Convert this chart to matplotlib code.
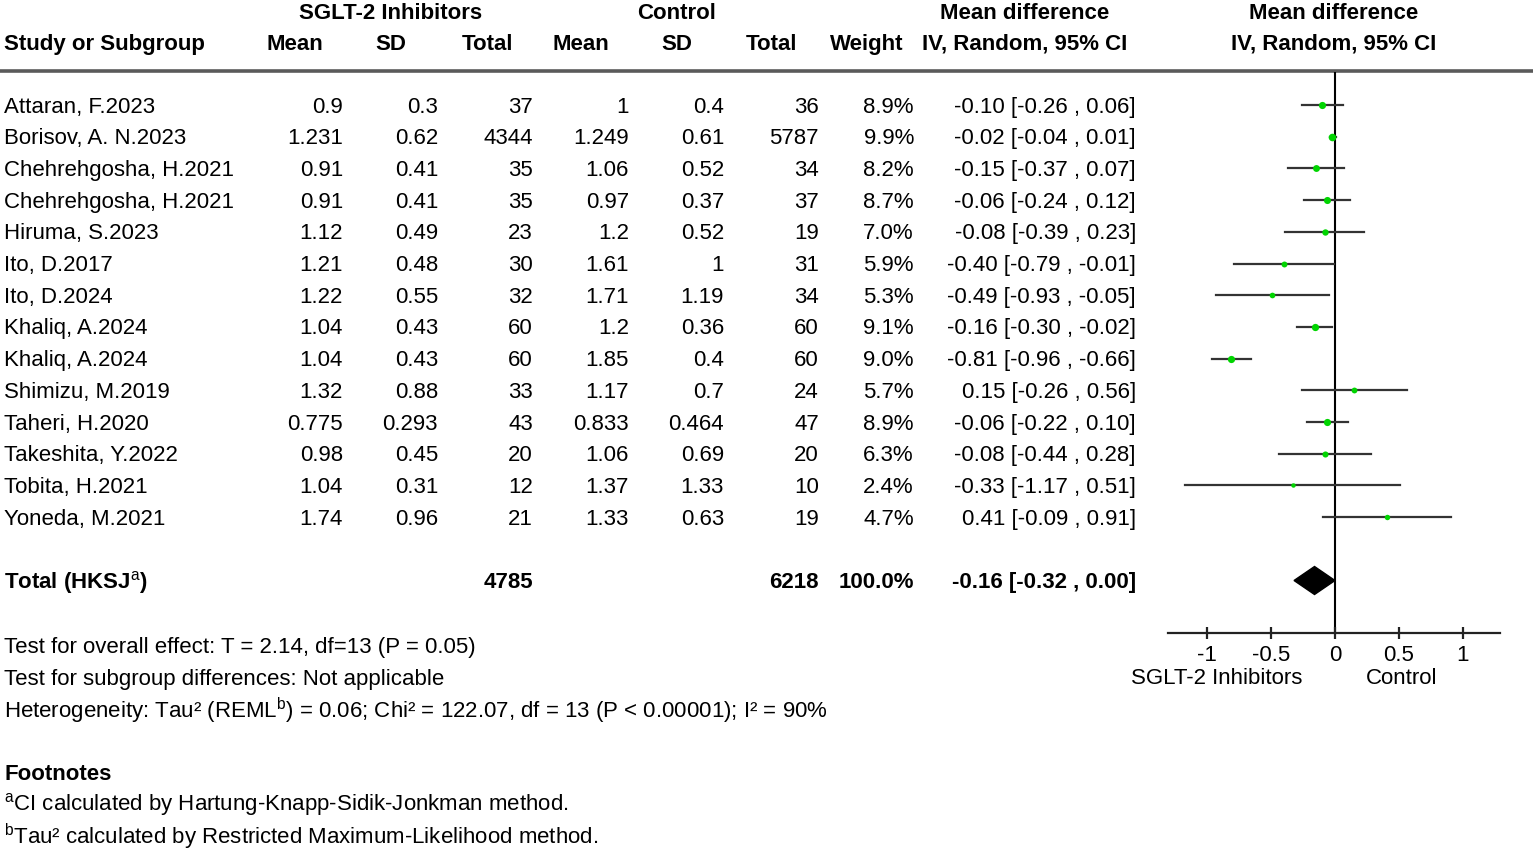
import matplotlib
matplotlib.use("Agg")
import matplotlib.pyplot as plt
from matplotlib.patches import Polygon

plt.rcParams['font.family'] = ['Liberation Sans', 'DejaVu Sans']
plt.rcParams['mathtext.fontset'] = 'custom'
plt.rcParams['mathtext.rm'] = 'Liberation Sans'
plt.rcParams['mathtext.it'] = 'Liberation Sans'

# ---------------- data ----------------
studies = ["Attaran, F.2023", "Borisov, A. N.2023", "Chehrehgosha, H.2021",
           "Chehrehgosha, H.2021", "Hiruma, S.2023", "Ito, D.2017", "Ito, D.2024",
           "Khaliq, A.2024", "Khaliq, A.2024", "Shimizu, M.2019", "Taheri, H.2020",
           "Takeshita, Y.2022", "Tobita, H.2021", "Yoneda, M.2021"]
sglt_mean = [0.9, 1.231, 0.91, 0.91, 1.12, 1.21, 1.22, 1.04, 1.04, 1.32, 0.775, 0.98, 1.04, 1.74]
sglt_sd = [0.3, 0.62, 0.41, 0.41, 0.49, 0.48, 0.55, 0.43, 0.43, 0.88, 0.293, 0.45, 0.31, 0.96]
sglt_n = [37, 4344, 35, 35, 23, 30, 32, 60, 60, 33, 43, 20, 12, 21]
ctrl_mean = [1, 1.249, 1.06, 0.97, 1.2, 1.61, 1.71, 1.2, 1.85, 1.17, 0.833, 1.06, 1.37, 1.33]
ctrl_sd = [0.4, 0.61, 0.52, 0.37, 0.52, 1, 1.19, 0.36, 0.4, 0.7, 0.464, 0.69, 1.33, 0.63]
ctrl_n = [36, 5787, 34, 37, 19, 31, 34, 60, 60, 24, 47, 20, 10, 19]
weight = [8.9, 9.9, 8.2, 8.7, 7.0, 5.9, 5.3, 9.1, 9.0, 5.7, 8.9, 6.3, 2.4, 4.7]
md = [-0.10, -0.02, -0.15, -0.06, -0.08, -0.40, -0.49, -0.16, -0.81, 0.15, -0.06, -0.08, -0.33, 0.41]
ci_lo = [-0.26, -0.04, -0.37, -0.24, -0.39, -0.79, -0.93, -0.30, -0.96, -0.26, -0.22, -0.44, -1.17, -0.09]
ci_hi = [0.06, 0.01, 0.07, 0.12, 0.23, -0.01, -0.05, -0.02, -0.66, 0.56, 0.10, 0.28, 0.51, 0.91]

total_sglt_n = 4785
total_ctrl_n = 6218
total_weight = 100.0
total_md = -0.16
total_lo = -0.32
total_hi = 0.00

xticks = [-1, -0.5, 0, 0.5, 1]
xtick_labels = ["-1", "-0.5", "0", "0.5", "1"]

# ---------------- layout ----------------
W, H = 1535, 850
fig = plt.figure(figsize=(W / 100, H / 100), dpi=100)
ax0 = fig.add_axes([0, 0, 1, 1])
ax0.set_xlim(0, W)
ax0.set_ylim(H, 0)
ax0.axis('off')

FS = 16
TY = 2  # vertical text offset in px
row_y0 = 105
row_dy = 31.7
total_row = 15

def rowy(i):
    return row_y0 + i * row_dy

# column right edges
cols_r = [343, 438, 533, 629, 724, 819, 914, 1136]

def t(x, y, s, ha='left', bold=False, size=FS, **kw):
    ax0.text(x, y + TY, s, ha=ha, va='center', fontsize=size,
             fontweight='bold' if bold else 'normal', color='black', **kw)

# headers
t(391, 11, "SGLT-2 Inhibitors", ha='center', bold=True)
t(677, 11, "Control", ha='center', bold=True)
t(1025, 11, "Mean difference", ha='center', bold=True)
t(1334, 11, "Mean difference", ha='center', bold=True)
t(4, 42, "Study or Subgroup", bold=True)
for x, s in [(295, "Mean"), (391, "SD"), (487, "Total"), (581, "Mean"),
             (677, "SD"), (772, "Total"), (867, "Weight"),
             (1025, "IV, Random, 95% CI"), (1334, "IV, Random, 95% CI")]:
    t(x, 42, s, ha='center', bold=True)

ax0.plot([0, 1533], [71, 71], color='#5a5a5a', lw=2.6, solid_capstyle='butt')

# rows
for i, name in enumerate(studies):
    y = rowy(i)
    t(4, y, name)
    vals = [f"{sglt_mean[i]:g}", f"{sglt_sd[i]:g}", f"{sglt_n[i]}",
            f"{ctrl_mean[i]:g}", f"{ctrl_sd[i]:g}", f"{ctrl_n[i]}",
            f"{weight[i]:.1f}%",
            f"{md[i]:.2f} [{ci_lo[i]:.2f} , {ci_hi[i]:.2f}]"]
    for x, s in zip(cols_r, vals):
        t(x, y, s, ha='right')

yt = rowy(total_row)
t(4, yt, r"Total (HKSJ$^{\mathrm{a}}$)", bold=True)
t(cols_r[2], yt, f"{total_sglt_n}", ha='right', bold=True)
t(cols_r[5], yt, f"{total_ctrl_n}", ha='right', bold=True)
t(cols_r[6], yt, f"{total_weight:.1f}%", ha='right', bold=True)
t(cols_r[7], yt, f"{total_md:.2f} [{total_lo:.2f} , {total_hi:.2f}]", ha='right', bold=True)

# bottom texts
t(4, 645, "Test for overall effect: T = 2.14, df=13 (P = 0.05)")
t(4, 677, "Test for subgroup differences: Not applicable")
t(4, 709, r"Heterogeneity: Tau² (REML$^{\mathrm{b}}$) = 0.06; Chi² = 122.07, df = 13 (P < 0.00001); I² = 90%")
t(4, 772, "Footnotes", bold=True)
t(4, 803, r"${}^{\mathrm{a}}$CI calculated by Hartung-Knapp-Sidik-Jonkman method.")
t(4, 835, r"${}^{\mathrm{b}}$Tau² calculated by Restricted Maximum-Likelihood method.")

t(1217, 677, "SGLT-2 Inhibitors", ha='center')
t(1402, 677, "Control", ha='center')

# ---------------- forest plot ----------------
px_left, px_right, px_top, px_bot = 1168, 1500, 72, 633
scale = 128.0  # px per unit
zero_px = 1335
x_lo = (px_left - zero_px) / scale
x_hi = (px_right - zero_px) / scale
ax1 = fig.add_axes([px_left / W, 1 - px_bot / H, (px_right - px_left) / W, (px_bot - px_top) / H])
ax1.patch.set_alpha(0)
ax1.set_xlim(x_lo, x_hi)
ax1.set_ylim((px_bot - row_y0) / row_dy, (px_top - row_y0) / row_dy)
for s in ['top', 'right', 'left']:
    ax1.spines[s].set_visible(False)
ax1.spines['bottom'].set_linewidth(1.6)
ax1.spines['bottom'].set_color('#222222')
ax1.set_yticks([])
ax1.set_xticks(xticks)
ax1.set_xticklabels(xtick_labels, fontsize=FS)
ax1.tick_params(axis='x', direction='inout', length=9, width=1.6, color='#222222', pad=4)

ax1.axvline(0, color='black', lw=1.5, zorder=1)

for i in range(len(studies)):
    ax1.plot([ci_lo[i], ci_hi[i]], [i, i], color='#333333', lw=1.6, zorder=2)
    ax1.plot(md[i], i, 'o', color='#00d400', ms=2.5 + 0.3 * weight[i], mec='none', zorder=3)

dh = 14 / row_dy
diamond = Polygon([[total_lo, total_row], [total_md, total_row - dh],
                   [total_hi, total_row], [total_md, total_row + dh]],
                  closed=True, facecolor='black', edgecolor='black', zorder=3)
ax1.add_patch(diamond)

fig.savefig("out.png", dpi=100)
